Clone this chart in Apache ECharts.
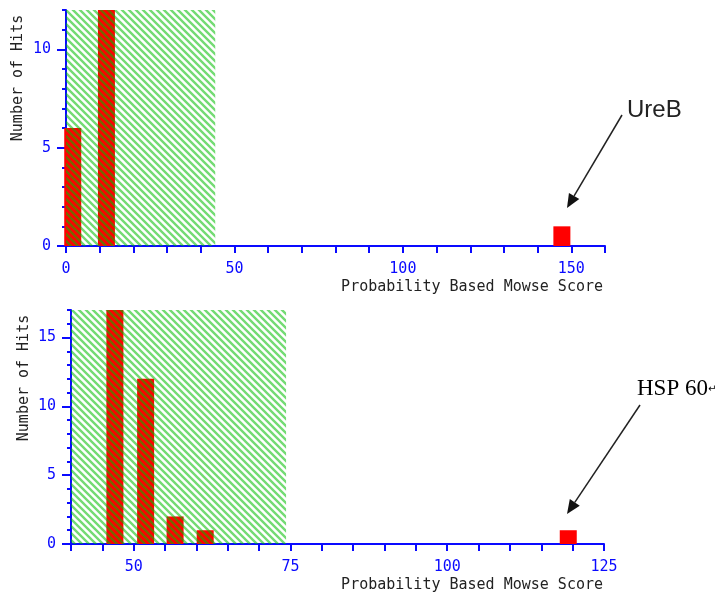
<!DOCTYPE html>
<html>
<head>
<meta charset="utf-8">
<script src="https://cdn.jsdelivr.net/npm/echarts@6/dist/echarts.min.js"></script>
<style>
html, body { margin: 0; padding: 0; background: #fff; }
#main { width: 725px; height: 599px; }
</style>
</head>
<body>
<div id="main"></div>
<script>
// top panel - UreB
var ureScores = [2, 12, 147.2];
var ureHits = [6, 12, 1];
var ureRange = [0, 160];
var ureHitMax = 12;
var ureThreshold = 44.3;
var ureXLabels = [0, 50, 100, 150];
var ureYLabels = [0, 5, 10];

// bottom panel - HSP 60
var hspScores = [47, 51.9, 56.6, 61.4, 119.3];
var hspHits = [17, 12, 2, 1, 1];
var hspRange = [40, 125];
var hspHitMax = 17;
var hspThreshold = 74.3;
var hspXLabels = [50, 75, 100, 125];
var hspYLabels = [0, 5, 10, 15];

var blue = '#0a0aff';
var mono = 'DejaVu Sans Mono';

function zip(a, b) {
	var out = [];
	for (var i = 0; i < a.length; i++) out.push([a[i], b[i]]);
	return out;
}

function hatch() {
	var c = document.createElement('canvas');
	c.width = 7; c.height = 7;
	var ctx = c.getContext('2d');
	ctx.strokeStyle = 'rgba(0,190,0,0.55)';
	ctx.lineWidth = 2.4;
	ctx.beginPath();
	ctx.moveTo(-1, -1); ctx.lineTo(8, 8);
	ctx.moveTo(-1, 6); ctx.lineTo(1, 8);
	ctx.moveTo(6, -1); ctx.lineTo(8, 1);
	ctx.stroke();
	return c;
}
var pattern = { type: 'pattern', image: hatch(), repeat: 'repeat' };

function xAxis(grid, range, step, labels) {
	return {
		gridIndex: grid, type: 'value', min: range[0], max: range[1], interval: step,
		axisLine: { onZero: false, lineStyle: { color: blue, width: 2 } },
		axisTick: { length: 7, lineStyle: { color: blue, width: 2 } },
		axisLabel: { customValues: labels, color: blue, fontFamily: mono, fontSize: 15, margin: 16 },
		splitLine: { show: false }
	};
}
function yAxis(grid, max, labels) {
	return {
		gridIndex: grid, type: 'value', position: 'left', min: 0, max: max, interval: 5,
		axisLine: { onZero: false, lineStyle: { color: blue, width: 2 } },
		axisTick: { customValues: labels, length: 9, lineStyle: { color: blue, width: 2 } },
		axisLabel: { customValues: labels, color: blue, fontFamily: mono, fontSize: 15, margin: 15 },
		splitLine: { show: false }
	};
}
function minorAxis(grid, max) {
	return {
		gridIndex: grid, type: 'value', position: 'left', min: 0, max: max, interval: 1,
		axisLine: { show: false, onZero: false },
		axisTick: { length: 4, lineStyle: { color: blue, width: 2 } },
		axisLabel: { show: false },
		splitLine: { show: false }
	};
}
function bars(idx, scores, hits) {
	return {
		type: 'bar', xAxisIndex: idx, yAxisIndex: idx * 2, barWidth: 17,
		data: zip(scores, hits), itemStyle: { color: '#ff0000' }, z: 2, silent: true
	};
}
// hatched "not significant" zone, drawn over the bars
function zone(idx, from, to, top) {
	return {
		type: 'custom', xAxisIndex: idx, yAxisIndex: idx * 2, z: 5, silent: true,
		data: [[from, to, top]],
		renderItem: function (params, api) {
			var p0 = api.coord([api.value(0), 0]);
			var p1 = api.coord([api.value(1), api.value(2)]);
			return {
				type: 'rect',
				shape: { x: p0[0], y: p1[1], width: p1[0] - p0[0], height: p0[1] - p1[1] },
				style: { fill: pattern }
			};
		}
	};
}
function arrow(x1, y1, x2, y2) {
	var a = Math.atan2(y2 - y1, x2 - x1), L = 14, W = 6;
	var bx = x2 - L * Math.cos(a), by = y2 - L * Math.sin(a);
	return [
		{ type: 'line', shape: { x1: x1, y1: y1, x2: bx, y2: by }, style: { stroke: '#222', lineWidth: 1.5 } },
		{ type: 'polygon', shape: { points: [[x2, y2], [bx + W * Math.sin(a), by - W * Math.cos(a)], [bx - W * Math.sin(a), by + W * Math.cos(a)]] }, style: { fill: '#111' } }
	];
}
function name(x, y, text, rot) {
	return {
		type: 'text', x: x, y: y, rotation: rot || 0,
		style: { text: text, fill: '#222', font: '15px ' + mono, textAlign: rot ? 'center' : 'right', textVerticalAlign: 'middle' }
	};
}

var graphics = [
	name(18, 78, 'Number of Hits', Math.PI / 2),
	name(24, 378, 'Number of Hits', Math.PI / 2),
	name(603, 287, 'Probability Based Mowse Score'),
	name(603, 585, 'Probability Based Mowse Score'),
	{ type: 'text', x: 627, y: 110, style: { text: 'UreB', fill: '#222', font: '24px "Liberation Sans"', textVerticalAlign: 'middle' } },
	{ type: 'text', x: 637, y: 389, style: {
		text: '{a|HSP 60}{b|\u21b5}', textVerticalAlign: 'middle',
		rich: { a: { fontFamily: 'Liberation Serif', fontSize: 23, color: '#222' }, b: { fontFamily: 'DejaVu Sans', fontSize: 10, color: '#777' } }
	} }
].concat(arrow(622, 115, 567, 208), arrow(640, 405, 567, 514));

var option = {
	animation: false,
	backgroundColor: '#fff',
	grid: [
		{ left: 66, top: 10, width: 539, height: 236, outerBoundsMode: 'none' },
		{ left: 71, top: 310, width: 533, height: 234, outerBoundsMode: 'none' }
	],
	xAxis: [xAxis(0, ureRange, 10, ureXLabels), xAxis(1, hspRange, 5, hspXLabels)],
	yAxis: [yAxis(0, ureHitMax, ureYLabels), minorAxis(0, ureHitMax), yAxis(1, hspHitMax, hspYLabels), minorAxis(1, hspHitMax)],
	series: [
		bars(0, ureScores, ureHits),
		zone(0, ureRange[0], ureThreshold, ureHitMax),
		bars(1, hspScores, hspHits),
		zone(1, hspRange[0], hspThreshold, hspHitMax)
	],
	graphic: graphics
};

var myChart = echarts.init(document.getElementById('main'));
myChart.setOption(option);
</script>
</body>
</html>
